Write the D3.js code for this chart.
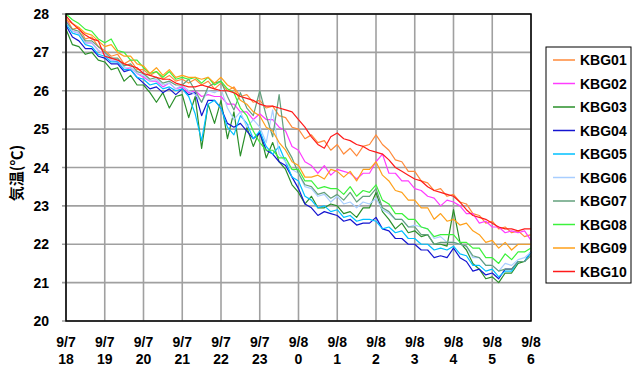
<!DOCTYPE html>
<html><head><meta charset="utf-8">
<script src="https://cdn.jsdelivr.net/npm/d3@7"></script>
<style>body{margin:0;background:#fff}svg{display:block}</style>
</head><body>
<script>
// time: hours after 9/7 18:00, 10-minute steps
const hourTicks = [0,1,2,3,4,5,6,7,8,9,10,11,12];
const tickDate = ["9/7","9/7","9/7","9/7","9/7","9/7","9/8","9/8","9/8","9/8","9/8","9/8","9/8"];
const tickHour = ["18","19","20","21","22","23","0","1","2","3","4","5","6"];
const yTicks = [20,21,22,23,24,25,26,27,28];
const names = ["KBG01","KBG02","KBG03","KBG04","KBG05","KBG06","KBG07","KBG08","KBG09","KBG10"];
const colors = ["#ff8a3a","#ff3cff","#2a8f2a","#1414d0","#00c0ff","#a8ceff","#63a07c","#3cf23c","#ffa01a","#ff1a1a"];

const KBG01 = [27.9,27.6,27.65,27.35,27.4,27.15, 27.05,26.9,26.95,26.7,26.8,26.55, 26.55,26.4,26.5,26.3,26.4,26.25, 26.3,26.2,26.3,26.15,26.25,26.05, 26.2,26.0,26.1,25.85,25.9,25.7, 25.75,25.55,25.6,25.35,25.3,25.05, 25.0,24.75,24.85,24.65,24.7,24.45, 24.6,24.35,24.5,24.3,24.55,24.6, 24.85,24.6,24.45,24.2,24.15,23.9, 23.9,23.65,23.6,23.4,23.45,23.25, 23.3,23.1,23.05,22.8,22.75,22.55, 22.6,22.4,22.45,22.3,22.35,22.2, 22.25];
const KBG02 = [27.85,27.55,27.5,27.25,27.25,27.05, 26.95,26.8,26.75,26.55,26.6,26.45, 26.35,26.25,26.25,26.1,26.2,26.05, 26.1,25.95,26.0,25.85,25.9,25.85, 25.85,25.65,25.65,25.45,25.45,25.25, 25.4,25.25,25.25,25.05,24.95,24.55, 24.45,24.15,24.05,23.85,24.05,23.8, 23.95,23.9,23.85,23.7,23.85,23.85, 24.15,24.35,23.85,23.85,23.65,23.65, 23.45,23.4,23.25,23.2,23.0,23.15, 23.1,23.0,22.8,22.8,22.55,22.6, 22.45,22.45,22.3,22.35,22.3,22.35, 22.1];
const KBG03 = [27.6,27.2,27.15,26.95,27.0,26.8, 26.75,26.55,26.6,26.25,26.4,26.15, 26.15,25.95,25.7,25.95,25.55,25.85, 25.9,25.3,25.85,24.5,25.65,25.15, 25.75,24.75,25.45,24.3,25.05,24.55, 24.95,24.25,24.65,24.15,23.95,23.55, 23.35,23.05,23.25,22.95,22.95,23.05, 23.0,22.8,22.85,22.7,22.95,22.95, 23.35,22.85,22.65,22.4,22.55,22.3, 22.35,22.2,22.25,22.0,22.0,21.95, 22.9,22.05,21.85,21.5,21.35,21.1, 21.15,21.0,21.25,21.25,21.5,21.55, 21.8];
const KBG04 = [27.7,27.4,27.3,27.1,27.1,26.9, 26.85,26.7,26.7,26.5,26.55,26.35, 26.2,26.05,26.1,25.95,26.05,25.9, 26.05,25.9,25.95,25.35,25.75,25.75, 25.55,25.15,25.05,25.15,24.95,24.75, 24.9,24.45,24.35,24.15,24.05,23.75, 23.45,23.05,22.95,22.75,22.85,22.8, 22.75,22.6,22.65,22.5,22.55,22.55, 22.7,22.4,22.35,22.15,22.15,22.0, 22.0,21.85,21.85,21.65,21.7,21.65, 21.9,21.65,21.55,21.3,21.35,21.2, 21.25,21.1,21.35,21.35,21.55,21.55, 21.8];
const KBG05 = [27.75,27.5,27.45,27.2,27.15,26.95, 26.9,26.75,26.75,26.55,26.55,26.35, 26.3,26.15,26.2,26.05,26.1,26.0, 26.05,25.85,25.4,24.7,25.65,25.75, 25.55,25.05,24.85,25.35,25.15,24.75, 24.95,24.55,24.35,24.55,24.15,23.75, 23.65,23.25,23.15,22.95,23.0,22.85, 22.9,22.7,22.75,22.6,22.65,22.65, 22.6,22.4,22.45,22.3,22.35,22.15, 22.15,22.0,22.0,21.85,21.9,21.85, 21.95,21.75,21.7,21.45,21.45,21.3, 21.35,21.15,21.3,21.3,21.55,21.55, 21.8];
const KBG06 = [27.8,27.55,27.5,27.25,27.25,27.05, 26.95,26.8,26.8,26.6,26.6,26.45, 26.4,26.25,26.3,26.15,26.2,26.05, 26.15,26.0,25.9,25.7,26.0,25.95, 26.05,25.55,25.25,25.45,25.05,25.25, 25.05,24.65,25.5,24.35,24.15,23.95, 23.85,23.5,23.45,23.25,23.3,23.1, 23.25,23.05,23.1,22.95,23.1,23.05, 23.2,22.9,22.8,22.65,22.65,22.45, 22.5,22.45,22.4,22.15,22.2,22.05, 22.05,22.0,21.95,21.65,21.65,21.45, 21.45,21.3,21.5,21.45,21.6,21.65, 21.8];
const KBG07 = [27.8,27.6,27.55,27.3,27.3,27.15, 27.0,26.85,26.85,26.65,26.7,26.5, 26.45,26.3,26.35,26.2,26.25,26.15, 26.15,26.3,26.0,25.7,26.1,26.2, 26.25,25.85,25.5,25.95,25.55,25.35, 26.0,25.35,24.8,25.9,24.55,24.25, 23.85,23.55,23.5,23.3,23.35,23.2, 23.3,23.15,23.35,23.1,23.25,23.25, 23.45,22.95,22.85,22.65,22.65,22.45, 22.45,22.25,22.25,22.0,22.05,22.05, 22.05,22.0,21.95,21.7,21.65,21.45, 21.45,21.3,21.35,21.35,21.55,21.55, 21.7];
const KBG08 = [28.0,27.85,27.75,27.6,27.55,27.35, 27.25,27.35,27.05,27.0,26.8,26.8, 26.6,26.45,26.5,26.35,26.5,26.3, 26.35,26.3,26.35,26.2,26.35,26.15, 26.25,26.05,25.95,25.55,25.35,24.95, 24.65,24.45,24.45,24.25,24.25,23.95, 23.95,23.65,23.65,23.45,23.5,23.45, 23.45,23.3,23.5,23.25,23.4,23.35, 23.55,23.15,23.05,22.8,22.8,22.65, 22.65,22.45,22.4,22.2,22.25,22.25, 22.25,22.05,22.05,21.9,21.9,21.65, 21.65,21.5,21.75,21.6,21.8,21.8, 21.9];
const KBG09 = [27.85,27.75,27.65,27.5,27.45,27.3, 27.15,27.2,27.0,26.9,26.9,26.7, 26.65,26.45,26.6,26.4,26.55,26.35, 26.4,26.35,26.35,26.3,26.35,26.2, 26.35,26.15,26.05,25.75,25.65,25.45, 25.35,25.05,24.95,24.65,24.45,24.15, 24.05,23.75,23.75,23.8,23.7,23.95, 23.9,23.75,23.9,23.65,23.95,23.95, 24.15,23.8,23.65,23.4,23.35,23.15, 23.15,22.95,22.95,22.65,22.8,22.6, 22.65,22.5,22.55,22.35,22.25,22.05, 22.1,21.9,22.05,21.85,22.0,22.0, 22.0];
const KBG10 = [27.95,27.75,27.6,27.45,27.35,27.3, 26.9,26.85,26.8,26.7,26.65,26.6, 26.45,26.4,26.35,26.3,26.3,26.2, 26.15,26.1,26.1,26.15,26.1,26.05, 26.0,26.0,25.95,25.85,25.8,25.75, 25.65,25.6,25.6,25.55,25.5,25.45, 25.25,25.05,24.8,24.6,24.5,24.8, 24.9,24.75,24.7,24.6,24.55,24.45, 24.4,24.35,24.2,24.0,23.9,23.8, 23.7,23.65,23.5,23.4,23.35,23.3, 23.25,23.1,22.9,22.75,22.7,22.65, 22.55,22.45,22.4,22.4,22.35,22.4, 22.4];
const seriesValues = [KBG01,KBG02,KBG03,KBG04,KBG05,KBG06,KBG07,KBG08,KBG09,KBG10];

const W = 633, H = 368;
const m = {left:66, right:531, top:14, bottom:321};
const svg = d3.select("body").append("svg").attr("width",W).attr("height",H);
const x = d3.scaleLinear().domain([0,12]).range([m.left,m.right]);
const y = d3.scaleLinear().domain([20,28]).range([m.bottom,m.top]);
const font = "Liberation Sans, Arial, sans-serif";

// grid
const g = svg.append("g");
g.selectAll("line.h").data(yTicks).join("line")
  .attr("x1",m.left-4).attr("x2",m.right).attr("y1",d=>y(d)).attr("y2",d=>y(d))
  .attr("stroke","#a0a0a0").attr("stroke-width",1.6);
g.selectAll("line.v").data(hourTicks).join("line")
  .attr("x1",d=>x(d)).attr("x2",d=>x(d)).attr("y1",m.top).attr("y2",m.bottom)
  .attr("stroke","#a0a0a0").attr("stroke-width",1.6);

// lines
const line = d3.line().x((d,i)=>x(i/6)).y(d=>y(d));
svg.append("g").selectAll("path").data(seriesValues).join("path")
  .attr("d",line).attr("fill","none")
  .attr("stroke",(d,i)=>colors[i]).attr("stroke-width",1.2).attr("stroke-linejoin","round");

// frame
svg.append("rect").attr("x",m.left).attr("y",m.top).attr("width",m.right-m.left).attr("height",m.bottom-m.top)
  .attr("fill","none").attr("stroke","#000").attr("stroke-width",1.5);

// y labels
svg.append("g").selectAll("text").data(yTicks).join("text")
  .attr("x",49).attr("y",d=>y(d)).attr("dy","0.36em").attr("text-anchor","end")
  .attr("font-family",font).attr("font-weight","bold").attr("font-size",14).text(d=>d);

// x labels
const xl = svg.append("g").selectAll("g").data(hourTicks).join("g");
xl.append("text").attr("x",d=>x(d)).attr("y",347).attr("text-anchor","middle")
  .attr("font-family",font).attr("font-weight","bold").attr("font-size",14).text((d,i)=>tickDate[i]);
xl.append("text").attr("x",d=>x(d)).attr("y",364).attr("text-anchor","middle")
  .attr("font-family",font).attr("font-weight","bold").attr("font-size",14).text((d,i)=>tickHour[i]);

// y title
svg.append("text").attr("transform","translate(22,173) rotate(-90)").attr("text-anchor","middle")
  .attr("font-family","Noto Sans CJK JP, sans-serif").attr("font-weight","bold").attr("font-size",15)
  .text("気温(℃)");

// legend
const lg = svg.append("g");
lg.append("rect").attr("x",546).attr("y",47).attr("width",85).attr("height",236)
  .attr("fill","#fff").attr("stroke","#000").attr("stroke-width",1);
const items = lg.selectAll("g.it").data(names).join("g").attr("transform",(d,i)=>`translate(0,${60+i*23.5})`);
items.append("line").attr("x1",553).attr("x2",575).attr("y1",0).attr("y2",0)
  .attr("stroke",(d,i)=>colors[i]).attr("stroke-width",1.5);
items.append("text").attr("x",580).attr("y",0).attr("dy","0.36em")
  .attr("font-family",font).attr("font-weight","bold").attr("font-size",14).text(d=>d);
</script>
</body></html>
